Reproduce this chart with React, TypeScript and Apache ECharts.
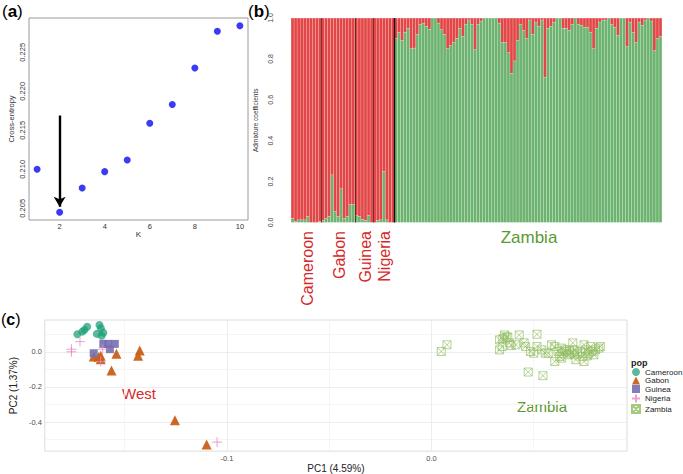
import React, { useEffect, useRef } from 'react';
import * as echarts from 'echarts';

// ---------- (a) cross-entropy ----------
const kValues = [1, 2, 3, 4, 5, 6, 7, 8, 9, 10];
const crossEntropy = [0.2100, 0.2045, 0.2076, 0.2097, 0.2112, 0.2159, 0.2183, 0.2230, 0.2277, 0.2284];
const kTicks = [2, 4, 6, 8, 10];
const ceTicks = [0.205, 0.21, 0.215, 0.22, 0.225];

// ---------- (b) admixture ----------
const popNames = ['Cameroon', 'Gabon', 'Guinea', 'Nigeria', 'Zambia'];
const cameroonGreen = [0.021, 0.005, 0.013, 0.013, 0.013, 0.03, 0, 0, 0, 0.005];
const gabonGreen = [0.01, 0.02, 0.03, 0.233, 0.054, 0.03, 0.165, 0.02, 0.03, 0.088, 0.088];
const guineaGreen = [0.034, 0.03, 0.016, 0.01, 0.034, 0];
const nigeriaGreen = [0, 0.01, 0.013, 0.25, 0.013, 0, 0];
const zambiaRed = [
  0.10, 0.07, 0.11, 0.07, 0.05, 0.15, 0.147, 0.08, 0.03, 0.025,
  0.04, 0.055, 0, 0, 0.025, 0.057, 0.08, 0.15, 0.135, 0.12,
  0.10, 0.05, 0.09, 0.03, 0.01, 0.03, 0.155, 0.03, 0.015, 0,
  0, 0, 0, 0, 0.025, 0.12, 0.12, 0.17, 0.27, 0.21,
  0.11, 0.03, 0.06, 0.10, 0.01, 0.08, 0.02, 0.04, 0.01, 0.29,
  0.05, 0.04, 0.02, 0, 0, 0.05, 0.05, 0.06, 0.03, 0,
  0.03, 0.035, 0.045, 0.045, 0.07, 0.15, 0.05, 0.02, 0.01, 0.01,
  0, 0.03, 0.045, 0.085, 0, 0, 0.14, 0.02, 0.07, 0.12,
  0.02, 0.035, 0.01, 0, 0.015, 0.16, 0.10, 0.09,
];
const admixTicks = [0, 0.2, 0.4, 0.6, 0.8, 1.0];

// ---------- (c) PCA ----------
const pcCameroon = [
  [-0.1731, 0.100], [-0.1707, 0.115], [-0.1696, 0.125], [-0.1683, 0.143], [-0.1623, 0.153],
  [-0.1616, 0.134], [-0.1636, 0.102], [-0.1612, 0.091], [-0.1604, 0.109],
];
const pcGabon = [
  [-0.1651, -0.027], [-0.1617, -0.023], [-0.1617, -0.042], [-0.1540, -0.011], [-0.1564, -0.106],
  [-0.1426, 0.007], [-0.1434, -0.023], [-0.1254, -0.389], [-0.1099, -0.527], [-0.1627, -0.030],
];
const pcGuinea = [
  [-0.1651, -0.008], [-0.1604, 0.045], [-0.1580, 0.045], [-0.1572, 0.015], [-0.1548, 0.045],
];
const pcNigeria = [
  [-0.1760, 0.015], [-0.1760, 0.0], [-0.1718, 0.058], [-0.1607, 0.015], [-0.1617, -0.055], [-0.1048, -0.514],
];
const pcZambia = [
  [0.0048, 0.002], [0.0076, 0.040], [0.0357, 0.096], [0.0333, 0.068], [0.0346, 0.030], [0.0365, 0.083],
  [0.0381, 0.051], [0.0373, 0.085], [0.0429, 0.096], [0.0413, 0.040], [0.0453, 0.051], [0.0460, 0.030],
  [0.0516, 0.100], [0.0516, 0.030], [0.0484, 0.002], [0.0500, -0.008], [0.0540, 0.011], [0.0556, -0.008],
  [0.0587, 0.040], [0.0603, 0.030], [0.0619, 0.002], [0.0635, 0.021], [0.0643, -0.008], [0.0659, 0.002],
  [0.0667, -0.017], [0.0683, -0.008], [0.0691, 0.051], [0.0698, 0.011], [0.0714, -0.008], [0.0730, 0.002],
  [0.0746, 0.040], [0.0754, 0.011], [0.0770, -0.008], [0.0786, 0.002], [0.0794, -0.017], [0.0818, 0.021],
  [0.0826, 0.030], [0.0603, -0.055], [0.0635, -0.036], [0.0706, -0.045], [0.0746, -0.055], [0.0473, -0.115],
  [0.0545, -0.136], [0.0333, 0.011], [0.0349, 0.074], [0.0389, 0.036], [0.0571, -0.008], [0.0651, 0.011],
  [0.0698, -0.017], [0.0762, -0.023], [0.0802, 0.011], [0.0778, 0.030], [0.0675, 0.011], [0.0627, -0.027],
  [0.0738, -0.027],
];
const pcXTicks = [-0.15, -0.1, -0.05, 0, 0.05];
const pcXLabels = [-0.1, 0];
const pcYTicks = [-0.5, -0.4, -0.3, -0.2, -0.1, 0, 0.1];
const pcYLabels = [-0.4, -0.2, 0];

const FONT = 'Liberation Sans, Arial, sans-serif';
const RED_TXT = '#d62a2a';
const GREEN_TXT = '#5b9a32';

function buildOption() {
  const westGreen = [...cameroonGreen, ...gabonGreen, ...guineaGreen, ...nigeriaGreen];
  const green = [...westGreen, ...zambiaRed.map((r) => +(1 - r).toFixed(4))];
  const red = green.map((g) => +(1 - g).toFixed(4));
  const ids = green.map((_, i) => String(i + 1));
  const counts = [cameroonGreen.length, gabonGreen.length, guineaGreen.length, nigeriaGreen.length, zambiaRed.length];
  const bounds: number[] = [];
  let acc = 0;
  counts.slice(0, 4).forEach((c) => { acc += c; bounds.push(acc); });
  const total = green.length;

  const sepData = bounds.map((b, i) => [
    {
      coord: [b, 0],
      lineStyle: i === 3
        ? { color: '#111', width: 1.4, type: 'solid' }
        : { color: '#4a2020', width: 0.9, opacity: 0.9, type: 'solid' },
    },
    { coord: [b, 1] },
  ]);

  const crossedSquare = 'path://M0,0L10,0L10,10L0,10ZM0,0L10,10M10,0L0,10';
  const cross = 'path://M5,0L5,10M0,5L10,5';

  return {
    animation: false,
    backgroundColor: '#fff',
    textStyle: { fontFamily: FONT },
    grid: [
      { left: 29, top: 18, width: 219, height: 202, show: true, borderColor: '#9a9a9a', borderWidth: 1, backgroundColor: '#fff' },
      { left: 291, top: 18, width: 371, height: 204.5, show: false },
      { left: 30, top: 320, width: 597, height: 132, show: true, borderColor: '#dcdcdc', borderWidth: 1, backgroundColor: '#fff' },
    ],
    xAxis: [
      {
        type: 'value', gridIndex: 0, min: 0.64, max: 10.36,
        axisLine: { show: false }, axisTick: { show: false }, splitLine: { show: false },
        axisLabel: { customValues: kTicks, fontSize: 7.5, color: '#333', margin: 2 },
        name: 'K', nameLocation: 'middle', nameGap: 8, nameTextStyle: { fontSize: 8, color: '#333' },
      },
      {
        type: 'category', gridIndex: 1, data: ids, show: false,
      },
      {
        type: 'value', gridIndex: 1, min: 0, max: total, show: false,
      },
      {
        type: 'value', gridIndex: 2, min: -0.189, max: 0.0956,
        axisLine: { show: false },
        axisTick: { show: false, customValues: pcXTicks },
        splitLine: { show: true, lineStyle: { color: ['#f2f2f2', '#e8e8e8'], width: 0.8 } },
        axisLabel: { customValues: pcXLabels, fontSize: 7.5, color: '#4d4d4d', margin: 3, formatter: (v: number) => v.toFixed(1) },
        name: 'PC1 (4.59%)', nameLocation: 'middle', nameGap: 9, nameTextStyle: { fontSize: 10, color: '#222' },
      },
    ],
    yAxis: [
      {
        type: 'value', gridIndex: 0, min: 0.2035, max: 0.2294,
        axisLine: { show: false }, axisTick: { show: false }, splitLine: { show: false },
        axisLabel: { customValues: ceTicks, rotate: 90, fontSize: 7.5, color: '#333', margin: 3, formatter: (v: number) => v.toFixed(3) },
        name: 'Cross-entropy', nameLocation: 'middle', nameRotate: 90, nameGap: 14, nameTextStyle: { fontSize: 7.5, color: '#333' },
      },
      {
        type: 'value', gridIndex: 1, min: 0, max: 1,
        axisLine: { show: false }, axisTick: { show: false }, splitLine: { show: false },
        axisLabel: { customValues: admixTicks, rotate: 90, fontSize: 7, color: '#444', margin: 17, formatter: (v: number) => v.toFixed(1) },
        name: 'Admixture coefficients', nameLocation: 'middle', nameRotate: 90, nameGap: 26, nameTextStyle: { fontSize: 6.5, color: '#333' },
      },
      {
        type: 'value', gridIndex: 2, min: -0.565, max: 0.181,
        axisLine: { show: false },
        axisTick: { show: false, customValues: pcYTicks },
        splitLine: { show: true, lineStyle: { color: ['#f2f2f2', '#e8e8e8'], width: 0.8 } },
        axisLabel: { customValues: pcYLabels, fontSize: 7.5, color: '#4d4d4d', margin: 3, formatter: (v: number) => v.toFixed(1) },
        name: 'PC2 (1.37%)', nameLocation: 'middle', nameRotate: 90, nameGap: 21, nameTextStyle: { fontSize: 10, color: '#222' },
      },
    ],
    legend: {
      data: popNames, orient: 'vertical', left: 631, top: 368, itemWidth: 8, itemHeight: 8, itemGap: 0.5,
      padding: 0, selectedMode: false, textStyle: { fontSize: 8, color: '#222', lineHeight: 8 },
    },
    series: [
      {
        type: 'scatter', xAxisIndex: 0, yAxisIndex: 0, symbolSize: 7,
        itemStyle: { color: '#0a0af0' },
        data: kValues.map((k, i) => [k, crossEntropy[i]]),
        markLine: {
          silent: true, symbol: ['none', 'arrow'], symbolSize: [9, 10],
          lineStyle: { color: '#000', width: 2.4, type: 'solid' }, label: { show: false },
          data: [[{ coord: [2, 0.2169] }, { coord: [2, 0.2052] }]],
        },
      },
      {
        name: 'Q2', type: 'bar', xAxisIndex: 1, yAxisIndex: 1, stack: 'q', barCategoryGap: '0%',
        itemStyle: { color: '#6db370', borderColor: 'rgba(255,255,255,0.1)', borderWidth: 0.3 },
        data: green,
      },
      {
        name: 'Q1', type: 'bar', xAxisIndex: 1, yAxisIndex: 1, stack: 'q', barCategoryGap: '0%',
        itemStyle: { color: '#e34646', borderColor: 'rgba(255,255,255,0.08)', borderWidth: 0.3 },
        data: red,
      },
      {
        name: 'sep', type: 'scatter', xAxisIndex: 2, yAxisIndex: 1, symbolSize: 0, data: [], z: 5,
        markLine: { silent: true, symbol: 'none', label: { show: false }, lineStyle: { type: 'solid' }, data: sepData },
      },
      {
        name: 'Cameroon', type: 'scatter', xAxisIndex: 3, yAxisIndex: 2, symbol: 'circle', symbolSize: 8,
        itemStyle: { color: '#1b9e77', opacity: 0.72 }, data: pcCameroon,
      },
      {
        name: 'Gabon', type: 'scatter', xAxisIndex: 3, yAxisIndex: 2, symbol: 'triangle', symbolSize: 10,
        itemStyle: { color: '#c9601a', opacity: 0.95 }, data: pcGabon,
      },
      {
        name: 'Guinea', type: 'scatter', xAxisIndex: 3, yAxisIndex: 2, symbol: 'rect', symbolSize: 8,
        itemStyle: { color: '#7570b3', opacity: 0.9 }, data: pcGuinea,
      },
      {
        name: 'Nigeria', type: 'scatter', xAxisIndex: 3, yAxisIndex: 2, symbol: cross, symbolSize: 10,
        itemStyle: { color: 'rgba(0,0,0,0)', borderColor: '#e78ac3', borderWidth: 1 }, data: pcNigeria,
      },
      {
        name: 'Zambia', type: 'scatter', xAxisIndex: 3, yAxisIndex: 2, symbol: crossedSquare, symbolSize: 8,
        itemStyle: { color: 'rgba(0,0,0,0)', borderColor: '#8ebc5c', borderWidth: 0.8 }, data: pcZambia,
      },
    ],
    graphic: [
      { type: 'text', left: 2, top: 3, style: { text: '{p|(}{b|a}{p|)}', rich: { p: { fontSize: 17, fontFamily: FONT }, b: { fontSize: 17, fontWeight: 'bold', fontFamily: FONT } } } },
      { type: 'text', left: 248, top: 3, style: { text: '{p|(}{b|b}{p|)}', rich: { p: { fontSize: 17, fontFamily: FONT }, b: { fontSize: 17, fontWeight: 'bold', fontFamily: FONT } } } },
      { type: 'text', left: 1, top: 311, style: { text: '{p|(}{b|c}{p|)}', rich: { p: { fontSize: 16, fontFamily: FONT }, b: { fontSize: 16, fontWeight: 'bold', fontFamily: FONT } } } },
      { type: 'text', x: 307, y: 231, rotation: Math.PI / 2, style: { text: 'Cameroon', fontSize: 16, fontFamily: FONT, fill: RED_TXT, align: 'right', verticalAlign: 'middle' } },
      { type: 'text', x: 339, y: 231, rotation: Math.PI / 2, style: { text: 'Gabon', fontSize: 16, fontFamily: FONT, fill: RED_TXT, align: 'right', verticalAlign: 'middle' } },
      { type: 'text', x: 365, y: 231, rotation: Math.PI / 2, style: { text: 'Guinea', fontSize: 16, fontFamily: FONT, fill: RED_TXT, align: 'right', verticalAlign: 'middle' } },
      { type: 'text', x: 384, y: 231, rotation: Math.PI / 2, style: { text: 'Nigeria', fontSize: 16, fontFamily: FONT, fill: RED_TXT, align: 'right', verticalAlign: 'middle' } },
      { type: 'text', x: 529, y: 229, style: { text: 'Zambia', fontSize: 17, fontFamily: FONT, fill: GREEN_TXT, align: 'center', verticalAlign: 'top' } },
      { type: 'text', x: 139, y: 393, style: { text: 'West', fontSize: 15, fontFamily: FONT, fill: RED_TXT, align: 'center', verticalAlign: 'middle' } },
      { type: 'text', x: 542, y: 406, style: { text: 'Zambia', fontSize: 15, fontFamily: FONT, fill: GREEN_TXT, align: 'center', verticalAlign: 'middle' } },
      { type: 'text', left: 631, top: 358, style: { text: 'pop', fontSize: 9, fontWeight: 'bold', fontFamily: FONT, fill: '#222' } },
    ],
  };
}

export default function App() {
  const ref = useRef<HTMLDivElement>(null);
  useEffect(() => {
    if (!ref.current) return;
    const chart = echarts.init(ref.current, null, { renderer: 'svg' });
    chart.setOption(buildOption() as any);
    return () => chart.dispose();
  }, []);
  return (
    <div
      ref={ref}
      style={{ position: 'fixed', left: 0, top: 0, width: 683, height: 474, background: '#fff' }}
    />
  );
}
